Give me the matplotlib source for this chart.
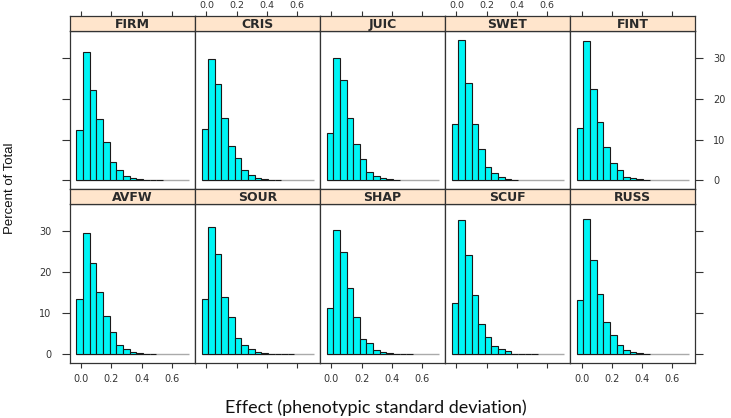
import matplotlib
matplotlib.use("Agg")
import matplotlib.pyplot as plt

# ---- data (percent of total per bin) ----
traits_top = ["FIRM", "CRIS", "JUIC", "SWET", "FINT"]
traits_bottom = ["AVFW", "SOUR", "SHAP", "SCUF", "RUSS"]

FIRM = [12.3, 31.5, 22.1, 15.0, 9.5, 4.6, 2.5, 1.1, 0.5, 0.25, 0.15, 0, 0.15]
CRIS = [12.5, 29.8, 23.6, 15.2, 8.5, 5.4, 2.5, 1.3, 0.65, 0.3, 0.1, 0.1]
JUIC = [11.7, 30.1, 24.7, 15.3, 8.9, 5.2, 2.0, 1.0, 0.5, 0.25, 0.15]
SWET = [13.8, 34.3, 23.9, 13.7, 7.7, 3.3, 1.7, 0.9, 0.4, 0.15]
FINT = [12.9, 34.1, 22.5, 14.3, 8.2, 4.2, 2.5, 0.9, 0.5, 0.25, 0.15]
AVFW = [13.4, 29.5, 22.2, 15.2, 9.4, 5.5, 2.4, 1.3, 0.65, 0.3, 0.15, 0.1]
SOUR = [13.4, 31.1, 24.4, 14.0, 9.1, 4.1, 2.2, 1.2, 0.6, 0.3, 0.15, 0.1, 0.0, 0.15]
SHAP = [11.4, 30.2, 24.9, 16.1, 9.2, 3.7, 2.7, 1.1, 0.5, 0.25, 0.15, 0.1, 0.1]
SCUF = [12.4, 32.8, 24.2, 14.4, 7.5, 4.2, 2.0, 1.4, 0.8, 0.1, 0.2, 0.1, 0.2]
RUSS = [13.2, 32.9, 23.0, 14.6, 8.0, 4.7, 2.2, 1.0, 0.55, 0.25, 0.15]

heights = {"FIRM": FIRM, "CRIS": CRIS, "JUIC": JUIC, "SWET": SWET, "FINT": FINT,
           "AVFW": AVFW, "SOUR": SOUR, "SHAP": SHAP, "SCUF": SCUF, "RUSS": RUSS}

bin_start = -0.032
bin_width = 0.044
x_ticks = [0.0, 0.2, 0.4, 0.6]
x_labels = ["0.0", "0.2", "0.4", "0.6"]
y_ticks = [0, 10, 20, 30]

# ---- layout (pixels) ----
W, H = 731, 418
col_left = 69.7
col_w = 125.06
rows = [(16, 31, 189), (189, 204, 363)]  # strip top, strip bottom / plot top, plot bottom

frame = "#333333"
tick_col = "#333333"

fig = plt.figure(figsize=(W / 100, H / 100), dpi=100)


def fx(px):
    return px / W


def fy(py):
    return 1 - py / H


for r, names in enumerate([traits_top, traits_bottom]):
    s_top, p_top, p_bot = rows[r]
    for c, name in enumerate(names):
        left = col_left + c * col_w
        ax = fig.add_axes([fx(left), fy(p_bot), col_w / W, (p_bot - p_top) / H])
        st = fig.add_axes([fx(left), fy(p_top), col_w / W, (p_top - s_top) / H])

        vals = heights[name]
        lefts = [bin_start + i * bin_width for i in range(len(vals))]
        ax.hlines(0, bin_start, 0.715, color="#aaaaaa", lw=1, zorder=1)
        ax.bar(lefts, vals, width=bin_width, align="edge", color="#00F5F5",
               edgecolor="#1a1a1a", lw=0.8, zorder=2)
        ax.set_xlim(-0.077, 0.752)
        ax.set_ylim(-2.1, 36.6)
        for sp in ax.spines.values():
            sp.set_color(frame)
            sp.set_linewidth(0.9)

        # strip
        st.set_xlim(ax.get_xlim())
        st.set_facecolor("#FFE5CC")
        for sp in st.spines.values():
            sp.set_color(frame)
            sp.set_linewidth(0.9)
        st.set_yticks([])
        st.text(0.5, 0.45, name, transform=st.transAxes, ha="center", va="center",
                fontsize=9, fontweight="bold", color="#2a2a2a", family="DejaVu Sans")

        # x ticks
        ax.set_xticks([])
        st.set_xticks([])
        if r == 0:
            st.set_xticks(x_ticks)
            st.set_xticklabels(x_labels)
            st.tick_params(axis="x", top=True, bottom=False, labeltop=(c in (1, 3)),
                           labelbottom=False, length=3.6, width=0.8, color=tick_col,
                           direction="out", pad=0.8, labelsize=6.8, labelcolor="#333333")
        else:
            ax.set_xticks(x_ticks)
            ax.set_xticklabels(x_labels)
            ax.tick_params(axis="x", bottom=True, labelbottom=(c in (0, 2, 4)),
                           length=3.6, width=0.8, color=tick_col, direction="out",
                           pad=4, labelsize=7, labelcolor="#333333")

        # y ticks
        ax.set_yticks([])
        if c == 0:
            ax.set_yticks(y_ticks)
            ax.tick_params(axis="y", left=True, right=False, labelleft=(r == 1),
                           length=6, width=0.8, color=tick_col, direction="out",
                           pad=7, labelsize=7, labelcolor="#333333")
        if c == 4:
            ax.set_yticks(y_ticks)
            ax.tick_params(axis="y", left=False, right=True, labelleft=False,
                           labelright=(r == 0), length=6, width=0.8, color=tick_col,
                           direction="out", pad=7, labelsize=7, labelcolor="#333333")

fig.text(fx(10), fy(188), "Percent of Total", rotation=90, ha="center", va="center",
         fontsize=9.5, family="Liberation Sans", color="#111111")
fig.text(fx(376), fy(408), "Effect (phenotypic standard deviation)", ha="center",
         va="center", fontsize=13, family="Lato", color="#111111")

fig.savefig("out.png", dpi=100)
